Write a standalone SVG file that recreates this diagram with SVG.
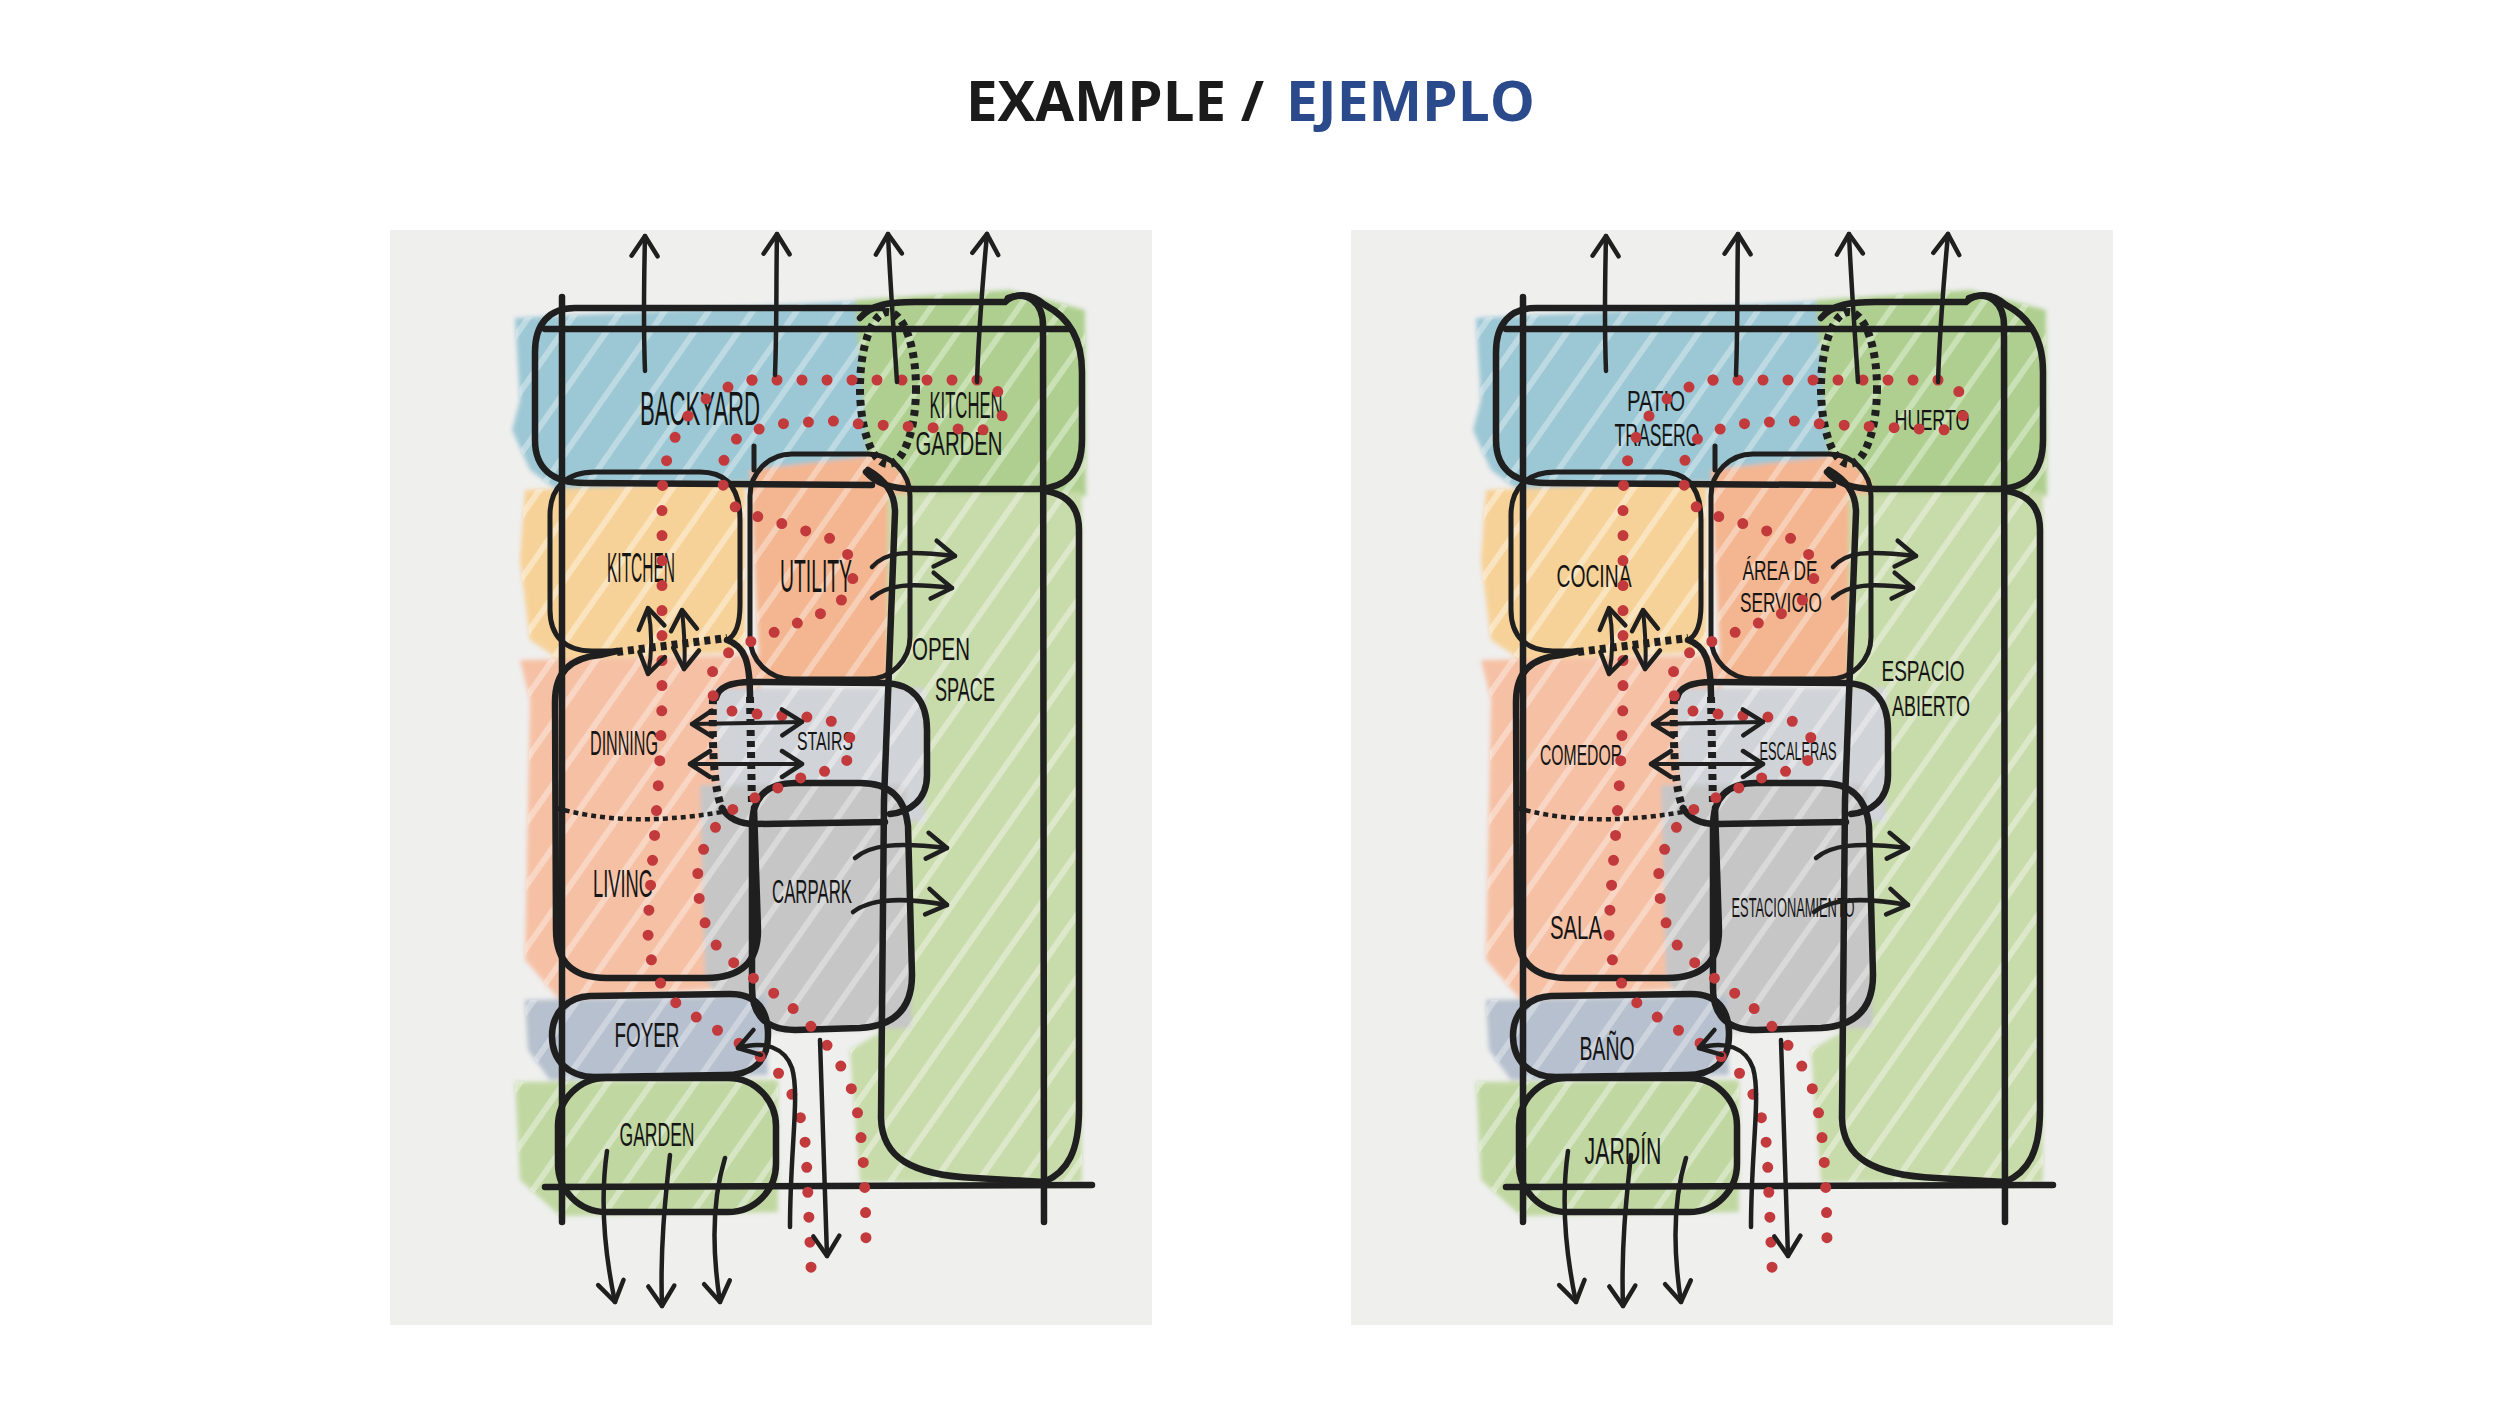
<svg xmlns="http://www.w3.org/2000/svg" xmlns:xlink="http://www.w3.org/1999/xlink" width="2500" height="1406" viewBox="0 0 2500 1406">
<style>
.ol{fill:none;stroke:#1f1f1f;stroke-width:6.5;stroke-linecap:round;stroke-linejoin:round}
.thin{stroke-width:5}
.dash{fill:none;stroke:#1f1f1f;stroke-width:8;stroke-dasharray:6 5}
.sep{fill:none;stroke:#1f1f1f;stroke-width:4.5;stroke-dasharray:5 4}
.dot{fill:none;stroke:#c33a3d;stroke-width:11;stroke-linecap:round;stroke-dasharray:0 25}
.arr{fill:none;stroke:#1f1f1f;stroke-width:4.5;stroke-linecap:round;marker-end:url(#ah)}
.arr2{fill:none;stroke:#1f1f1f;stroke-width:4;stroke-linecap:round;marker-start:url(#ah);marker-end:url(#ah)}
.lbl{font-family:'Liberation Sans Narrow','Liberation Sans',sans-serif;fill:#151515;text-anchor:middle}
.paper{fill:#efefee}
</style>
<defs>
<marker id="ah" viewBox="-25 -16 30 32" refX="0" refY="0" markerWidth="30" markerHeight="32" markerUnits="userSpaceOnUse" orient="auto-start-reverse" overflow="visible">
<path d="M -20,-13 L 0,0 L -20,13" fill="none" stroke="#1f1f1f" stroke-width="4.5" stroke-linecap="round" stroke-linejoin="round"/>
</marker>
<pattern id="streak" width="36" height="36" patternUnits="userSpaceOnUse" patternTransform="rotate(-55)">
<rect width="36" height="6" fill="#ffffff"/>
</pattern>
<filter id="soft" x="-5%" y="-5%" width="110%" height="110%"><feGaussianBlur stdDeviation="2"/></filter>
<g id="washes">
<path fill="#94c3d2" d="M 515,318 L 880,300 L 886,486 L 560,492 L 530,470 L 512,430 L 520,400 Z"/>
<path fill="#a8cc85" d="M 855,300 L 1010,290 L 1085,310 L 1086,496 L 870,496 Z"/>
<path fill="#f8cf8f" d="M 525,490 L 745,482 L 745,652 L 560,660 L 530,640 L 520,560 Z"/>
<path fill="#f4b088" d="M 750,470 L 880,455 L 910,480 L 910,680 L 760,682 Z"/>
<path fill="#c4d9a3" d="M 888,494 L 1082,492 L 1082,1182 L 860,1182 L 850,1050 L 884,1030 Z"/>
<path fill="#f7bc9d" d="M 520,660 L 760,655 L 762,985 L 560,1000 L 525,960 L 530,700 Z"/>
<path fill="#cdd0d6" d="M 715,688 L 925,688 L 925,822 L 720,822 Z"/>
<path fill="#c2c2c2" d="M 700,785 L 905,785 L 912,1028 L 750,1032 L 705,980 Z"/>
<path fill="#b0bccb" d="M 525,1000 L 765,996 L 768,1075 L 550,1080 L 528,1050 Z"/>
<path fill="#bcd59a" d="M 515,1082 L 778,1080 L 778,1212 L 560,1216 L 520,1180 Z"/>
</g>
<mask id="wm" maskUnits="userSpaceOnUse" x="380" y="220" width="800" height="1120"><use href="#washes"/></mask>
<g id="frame">
<path class="ol" d="M 562,297 L 562,1222"/>
<path class="ol" d="M 545,329 L 1070,329"/>
<path class="ol" d="M 1008,298 C 1028,291 1043,302 1043,326 L 1044,1222"/>
<path class="ol" d="M 545,1187 L 1092,1185"/>
</g>
<path id="s-backyard" class="ol" d="M 882,308 L 575,308 C 549,308 535,324 535,352 L 535,440 C 535,468 552,483 585,483 L 872,485"/>
<g id="s-kgarden">
<path class="ol" d="M 860,318 C 872,304 890,302 915,302 L 1005,302 C 1015,293 1030,292 1045,305 C 1070,318 1082,340 1082,372 L 1082,440 C 1082,472 1066,488 1038,489 L 915,489 C 892,489 876,484 866,472"/>
<ellipse class="dash" cx="888" cy="388" rx="28" ry="76"/>
</g>
<path id="s-kitchen" class="ol thin" d="M 617,651 L 592,651 C 565,651 550,636 550,610 L 550,515 C 550,488 566,472 595,472 L 700,472 C 728,472 740,490 740,520 L 740,605 C 740,626 735,636 727,640"/>
<g id="s-utility">
<rect class="ol thin" x="750" y="454" width="160" height="225" rx="42"/>
<path class="ol thin" d="M 754,446 L 754,470"/>
</g>
<path id="s-open" class="ol" d="M 868,470 C 882,478 895,490 895,512 L 884,800 L 881,1118 C 882,1158 912,1175 975,1178 L 1044,1182 C 1068,1172 1079,1150 1079,1110 L 1079,530 C 1079,506 1066,494 1045,491"/>
<g id="s-dining">
<path class="ol" d="M 617,651 L 600,655 C 570,658 555,672 555,702 L 556,930 C 556,962 573,978 606,978 L 706,978 C 741,978 758,962 758,930 L 754,808"/>
<path class="ol" d="M 727,640 C 745,646 750,662 750,697"/>
<path class="dash" d="M 617,652 L 727,638"/>
<path class="dash" d="M 750,697 L 752,806"/>
<path class="sep" d="M 556,808 C 600,820 650,824 722,812"/>
</g>
<g id="s-stairs">
<path class="ol" d="M 716,698 C 718,688 730,682 752,682 L 885,683 C 912,684 927,700 927,730 L 927,775 C 927,800 910,812 890,814 M 885,822 L 755,824 C 738,824 728,818 722,808"/>
<path class="dash" d="M 713,698 C 712,750 714,790 722,808"/>
</g>
<path id="s-carpark" class="ol" d="M 795,783 L 860,783 C 890,783 905,798 908,826 L 912,975 C 912,1008 895,1026 860,1028 L 795,1030 C 766,1030 752,1015 752,988 L 752,826 C 752,798 766,783 795,783 Z"/>
<path id="s-foyer" class="ol" d="M 590,996 L 730,994 C 757,994 768,1010 768,1035 C 768,1062 752,1075 725,1075 L 595,1077 C 568,1077 552,1060 552,1036 C 552,1012 568,997 590,996 Z"/>
<rect id="s-garden" class="ol" x="558" y="1078" width="218" height="134" rx="48"/>
<g id="conn">
<path class="dot" d="M 752,380 L 980,380 C 995,382 1003,395 1003,413 C 1000,425 990,430 980,430 L 860,424 L 835,421 L 787,423 L 765,427 L 740,436 C 728,445 722,460 722,475 C 722,490 730,505 742,512 L 790,526 L 835,540 C 850,550 855,570 852,585 C 846,600 830,610 815,616 L 770,634 L 747,643 C 725,652 710,665 710,685 C 712,700 722,710 740,713 L 823,718 C 845,725 855,740 852,752 C 848,765 830,772 812,773 L 743,803 C 720,815 703,840 698,870 C 696,900 705,935 722,952 C 745,975 780,995 800,1015 C 825,1040 845,1065 855,1100 C 864,1140 866,1200 866,1252"/>
<path class="dot" d="M 752,380 C 722,386 700,400 688,416 C 672,438 663,462 662,495 L 662,700 C 660,800 650,870 648,930 C 648,962 658,985 675,1002 C 700,1022 740,1042 765,1060 C 790,1080 802,1110 806,1150 L 812,1290"/>
<path class="arr" d="M 645,371 C 643,320 644,280 645,236"/>
<path class="arr" d="M 775,375 C 777,320 776,280 777,234"/>
<path class="arr" d="M 897,382 C 893,320 890,280 888,234"/>
<path class="arr" d="M 977,382 C 979,320 983,280 987,234"/>
<path class="arr" d="M 872,567 C 885,552 905,550 955,556"/>
<path class="arr" d="M 872,598 C 888,584 910,583 952,588"/>
<path class="arr" d="M 855,858 C 870,845 895,842 947,848"/>
<path class="arr" d="M 853,912 C 868,900 895,896 947,905"/>
<path class="arr2" d="M 648,608 C 652,630 652,655 648,674"/>
<path class="arr2" d="M 682,610 C 684,630 686,650 684,669"/>
<path class="arr2" d="M 692,724 L 802,722"/>
<path class="arr2" d="M 690,764 L 802,764"/>
<path class="arr" d="M 607,1151 C 600,1200 604,1250 615,1302"/>
<path class="arr" d="M 670,1155 C 665,1200 660,1250 662,1306"/>
<path class="arr" d="M 725,1158 C 712,1200 712,1250 720,1302"/>
<path class="arr" d="M 790,1227 C 790,1150 800,1095 792,1068 C 785,1048 765,1040 738,1048"/>
<path class="arr" d="M 820,1040 L 827,1256"/>
</g>
</defs>
<rect width="2500" height="1406" fill="#ffffff"/>
<g id="title">
<text x="966" y="121" font-family="'Open Sans','Liberation Sans',sans-serif" font-weight="700" font-size="55" fill="#1b1b1b" textLength="298" lengthAdjust="spacingAndGlyphs">EXAMPLE /</text>
<text x="1286" y="121" font-family="'Open Sans','Liberation Sans',sans-serif" font-weight="700" font-size="55" fill="#2a4a8b" textLength="249" lengthAdjust="spacingAndGlyphs">EJEMPLO</text>
</g>
<g id="panel-en">
<rect class="paper" x="390" y="230" width="762" height="1095"/>
<use href="#washes" opacity="0.9" filter="url(#soft)"/>
<rect x="390" y="230" width="762" height="1095" fill="url(#streak)" opacity="0.45" mask="url(#wm)"/>
<use href="#frame"/>
<g id="en-backyard"><use href="#s-backyard"/><text class="lbl" x="700" y="425" font-size="48" textLength="120" lengthAdjust="spacingAndGlyphs">BACKYARD</text></g>
<g id="en-kitchen-garden"><use href="#s-kgarden"/><text class="lbl" x="966" y="418" font-size="36" textLength="73" lengthAdjust="spacingAndGlyphs">KITCHEN</text><text class="lbl" x="959" y="455" font-size="33" textLength="87" lengthAdjust="spacingAndGlyphs">GARDEN</text></g>
<g id="en-kitchen"><use href="#s-kitchen"/><text class="lbl" x="641" y="582" font-size="42" textLength="68" lengthAdjust="spacingAndGlyphs">KITCHEN</text></g>
<g id="en-utility"><use href="#s-utility"/><text class="lbl" x="816" y="592" font-size="46" textLength="72" lengthAdjust="spacingAndGlyphs">UTILITY</text></g>
<g id="en-open-space"><use href="#s-open"/><text class="lbl" x="941" y="660" font-size="32" textLength="58" lengthAdjust="spacingAndGlyphs">OPEN</text><text class="lbl" x="965" y="701" font-size="34" textLength="60" lengthAdjust="spacingAndGlyphs">SPACE</text></g>
<g id="en-dining-living"><use href="#s-dining"/><text class="lbl" x="624" y="755" font-size="35" textLength="68" lengthAdjust="spacingAndGlyphs">DINNING</text><text class="lbl" x="623" y="897" font-size="38" textLength="60" lengthAdjust="spacingAndGlyphs">LIVING</text></g>
<g id="en-stairs"><use href="#s-stairs"/><text class="lbl" x="825" y="750" font-size="26" textLength="56" lengthAdjust="spacingAndGlyphs">STAIRS</text></g>
<g id="en-carpark"><use href="#s-carpark"/><text class="lbl" x="812" y="903" font-size="33" textLength="80" lengthAdjust="spacingAndGlyphs">CARPARK</text></g>
<g id="en-foyer"><use href="#s-foyer"/><text class="lbl" x="647" y="1047" font-size="35" textLength="65" lengthAdjust="spacingAndGlyphs">FOYER</text></g>
<g id="en-garden"><use href="#s-garden"/><text class="lbl" x="657" y="1146" font-size="33" textLength="75" lengthAdjust="spacingAndGlyphs">GARDEN</text></g>
<g id="en-connectors"><use href="#conn"/></g>
</g>
<g id="panel-es" transform="translate(961,0)">
<rect class="paper" x="390" y="230" width="762" height="1095"/>
<use href="#washes" opacity="0.9" filter="url(#soft)"/>
<rect x="390" y="230" width="762" height="1095" fill="url(#streak)" opacity="0.45" mask="url(#wm)"/>
<use href="#frame"/>
<g id="es-patio-trasero"><use href="#s-backyard"/><text class="lbl" x="695" y="411" font-size="29" textLength="58" lengthAdjust="spacingAndGlyphs">PATIO</text><text class="lbl" x="696" y="446" font-size="31" textLength="85" lengthAdjust="spacingAndGlyphs">TRASERO</text></g>
<g id="es-huerto"><use href="#s-kgarden"/><text class="lbl" x="971" y="430" font-size="30" textLength="75" lengthAdjust="spacingAndGlyphs">HUERTO</text></g>
<g id="es-cocina"><use href="#s-kitchen"/><text class="lbl" x="633" y="587" font-size="31" textLength="75" lengthAdjust="spacingAndGlyphs">COCINA</text></g>
<g id="es-area-servicio"><use href="#s-utility"/><text class="lbl" x="819" y="580" font-size="27" textLength="75" lengthAdjust="spacingAndGlyphs">ÁREA DE</text><text class="lbl" x="820" y="612" font-size="27" textLength="82" lengthAdjust="spacingAndGlyphs">SERVICIO</text></g>
<g id="es-espacio-abierto"><use href="#s-open"/><text class="lbl" x="962" y="681" font-size="29" textLength="83" lengthAdjust="spacingAndGlyphs">ESPACIO</text><text class="lbl" x="970" y="716" font-size="30" textLength="78" lengthAdjust="spacingAndGlyphs">ABIERTO</text></g>
<g id="es-comedor-sala"><use href="#s-dining"/><text class="lbl" x="620" y="765" font-size="30" textLength="82" lengthAdjust="spacingAndGlyphs">COMEDOR</text><text class="lbl" x="615" y="939" font-size="34" textLength="52" lengthAdjust="spacingAndGlyphs">SALA</text></g>
<g id="es-escaleras"><use href="#s-stairs"/><text class="lbl" x="837" y="760" font-size="25" textLength="77" lengthAdjust="spacingAndGlyphs">ESCALERAS</text></g>
<g id="es-estacionamiento"><use href="#s-carpark"/><text class="lbl" x="832" y="917" font-size="27" textLength="123" lengthAdjust="spacingAndGlyphs">ESTACIONAMIENTO</text></g>
<g id="es-bano"><use href="#s-foyer"/><text class="lbl" x="646" y="1060" font-size="34" textLength="55" lengthAdjust="spacingAndGlyphs">BAÑO</text></g>
<g id="es-jardin"><use href="#s-garden"/><text class="lbl" x="662" y="1164" font-size="36" textLength="77" lengthAdjust="spacingAndGlyphs">JARDÍN</text></g>
<g id="es-connectors"><use href="#conn"/></g>
</g>
</svg>
